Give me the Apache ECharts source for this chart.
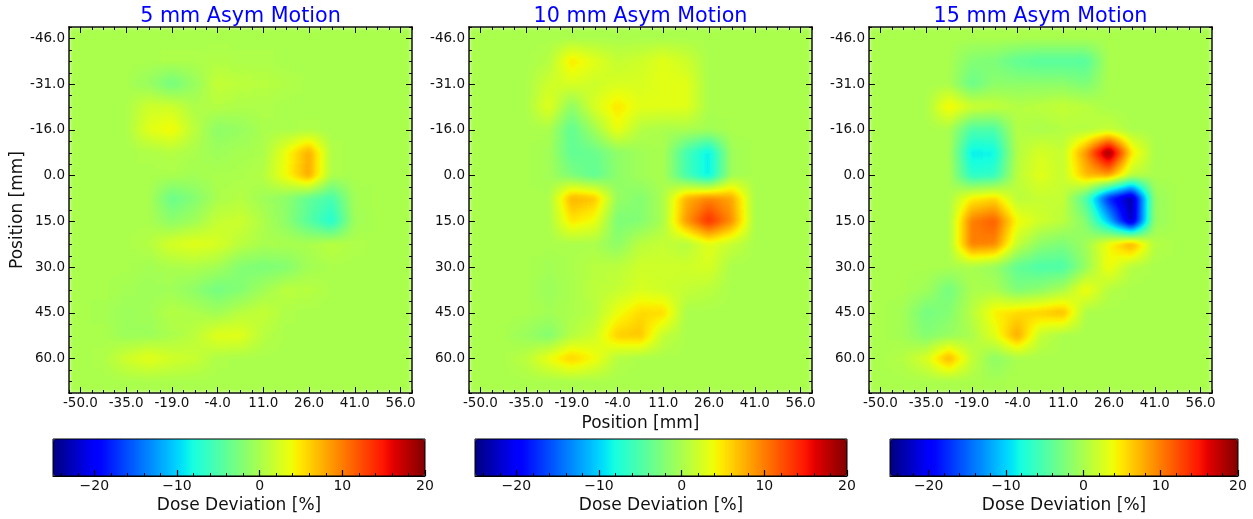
<!DOCTYPE html>
<html>
<head>
<meta charset="utf-8">
<script src="https://cdn.jsdelivr.net/npm/echarts@6/dist/echarts.min.js"></script>
<style>
html,body{margin:0;padding:0;background:#fff;}
#stage{position:relative;width:1253px;height:519px;overflow:hidden;}
.field{position:absolute;top:27px;width:343px;height:366px;background:#8e8e8e;filter:url(#doseField);}
#front{position:absolute;left:0;top:0;width:1253px;height:519px;}
</style>
</head>
<body>
<div id="stage">
<svg width="0" height="0" style="position:absolute">
<filter id="doseField" x="0" y="0" width="100%" height="100%" color-interpolation-filters="sRGB">
<feConvolveMatrix id="boxX" order="23 1" edgeMode="duplicate" preserveAlpha="true" result="a"/>
<feConvolveMatrix id="boxY" in="a" order="1 23" edgeMode="duplicate" preserveAlpha="true" result="b"/>
<feGaussianBlur in="b" stdDeviation="2" edgeMode="duplicate" result="c"/>
<feComponentTransfer in="c"><feFuncR id="fr" type="table"/><feFuncG id="fg" type="table"/><feFuncB id="fb" type="table"/></feComponentTransfer>
</filter>
</svg>
<div class="field" id="f0" style="left:69px"></div>
<div class="field" id="f1" style="left:469px"></div>
<div class="field" id="f2" style="left:869px"></div>
<div id="front"></div>
</div>
<script>
const titles = ['5 mm Asym Motion', '10 mm Asym Motion', '15 mm Asym Motion'];
const xTickLabels = ['-50.0','-35.0','-19.0','-4.0','11.0','26.0','41.0','56.0'];
const yTickLabels = ['-46.0','-31.0','-16.0','0.0','15.0','30.0','45.0','60.0'];
const barTickLabels = {'-20':'\u221220','-10':'\u221210','0':'0','10':'10','20':'20'};

const panel5 = [
[0,0,0,0,0,0,0,0,0,0,0,0,0,0,0],
[0,0,0,0,.3,.3,.4,.3,.3,.1,0,0,0,0,0],
[0,0,0,-1,-3,-1,1.5,1,.8,.4,0,0,0,0,0],
[0,0,0,2,2,.3,.5,.3,.3,0,0,0,0,0,0],
[0,0,0,3,4.2,1,-1.5,-1,0,0,.3,0,0,0,0],
[0,0,0,.2,.5,0,-.7,-.2,0,3.5,7.8,.3,0,0,0],
[0,0,0,0,0,-.3,0,0,.5,4,7.8,.3,0,0,0],
[0,0,0,0,-3.5,-2,0,.5,-.5,-1.5,-4,-5.5,-.3,0,0],
[0,0,0,0,-1.5,-.5,1.5,1.8,.3,-1.5,-4.5,-7.5,-.5,0,0],
[0,0,0,.5,2.5,3,2.5,1,0,0,0,1,.2,0,0],
[0,0,0,-.3,0,.3,-.3,-2,-2.5,-2,-.3,0,0,0,0],
[0,0,-.3,-.5,-.4,-1.5,-3,-2,-.5,1,.8,0,0,0,0],
[0,-.2,-.7,-.5,.5,.3,-.5,.8,1.5,.3,0,0,0,0,0],
[0,0,-.7,-.6,0,1,3,3,.8,0,0,0,0,0,0],
[0,.3,2,3.2,2.2,1.6,.3,0,0,0,0,0,0,0,0],
[0,0,0,0,0,0,0,0,0,0,0,0,0,0,0]
];
const panel10 = [
[0,0,0,0,0,0,0,0,0,0,0,0,0,0,0],
[0,0,0,.5,4.8,3,1.5,2,3,2,0,0,0,0,0],
[0,0,0,2,2.5,2,2.5,2.5,3,3,0,0,0,0,0],
[0,0,0,3,-1.5,2.5,5,3,3,3,0,0,0,0,0],
[0,0,0,0,-4,-.5,3.5,.5,0,0,-.3,0,0,0,0],
[0,0,0,-.3,-4,-3.5,-1.5,-.5,0,-5.5,-9,-.5,0,0,0],
[0,0,0,-.3,-2.5,-4,-1.5,-.5,0,-5.5,-9,-.5,0,0,0],
[0,0,0,0,7.5,6.5,-1,-2,0,7.5,9.5,8,0,0,0],
[0,0,0,0,5,3.5,-2.5,-2,0,8.5,14,9,0,0,0],
[0,0,0,0,0,0,-1.5,1,1.5,.5,3,1.5,0,0,0],
[0,0,0,-.3,0,.8,1,2,2,2,2.5,0,0,0,0],
[0,0,0,-.7,0,1,1.5,2.5,2,1.5,1,0,0,0,0],
[0,0,0,-.3,0,.8,3.5,5.5,5.5,0,0,0,0,0,0],
[0,0,-.8,-2,.5,2,6,6.5,1.5,0,0,0,0,0,0],
[0,0,1,3.5,6,4,.5,0,0,0,0,0,0,0,0],
[0,0,0,0,0,0,0,0,0,0,0,0,0,0,0]
];
const panel15 = [
[0,0,0,0,0,0,0,0,0,0,0,0,0,0,0],
[0,0,0,0,-2,-2.5,-4,-4.5,-4.5,-4.5,0,0,0,0,0],
[0,0,0,0,-3.5,-1.5,-1.5,-1.5,-1.5,-2.5,0,0,0,0,0],
[0,0,0,4.5,2,1.5,.5,1,1.5,1,0,0,0,0,0],
[0,0,0,0,-5,-5,.5,0,.5,.5,1.5,0,0,0,0],
[0,0,0,0,-9,-8.5,.5,2.5,1.5,9,20,5,0,0,0],
[0,0,0,0,-7,-6.5,1,3,1.5,7,8,1,0,0,0],
[0,0,0,0,4.5,5.5,1,1.5,1.5,-5,-18,-24,-1,0,0],
[0,0,0,0,10,11.5,4,2,1,-2,-11,-23,-1,0,0],
[0,0,0,0,10,9.5,1.5,-1.5,-2.5,-.5,4,8,.5,0,0],
[0,0,0,0,0,-1,-4,-5,-5,-1,4,.5,0,0,0],
[0,0,-.5,-3,0,0,-2.5,-1.5,0,4,.5,0,0,0,0],
[0,-.3,-3,-2,.8,4.5,5.5,6,7,0,0,0,0,0,0],
[0,-.3,-2,-1,0,3,8,1.5,0,0,0,0,0,0,0],
[0,.5,2.5,7.5,1.5,-1.5,0,0,0,0,0,0,0,0,0],
[0,0,0,0,0,-.2,0,0,0,0,0,0,0,0,0]
];
const panels = [panel5, panel10, panel15];

const valueMin = -25, valueMax = 20;

function jet(t) {
  const seg = (pts) => {
    for (let i = 1; i < pts.length; i++) {
      if (t <= pts[i][0]) {
        const a = pts[i-1], b = pts[i];
        return a[1] + (b[1]-a[1]) * (t-a[0]) / (b[0]-a[0]);
      }
    }
    return pts[pts.length-1][1];
  };
  return [
    seg([[0,0],[.35,0],[.66,1],[.89,1],[1,.5]]),
    seg([[0,0],[.125,0],[.375,1],[.64,1],[.91,0],[1,0]]),
    seg([[0,.5],[.11,1],[.34,1],[.65,0],[1,0]])
  ];
}
const jetStops = [];
for (let i = 0; i <= 128; i++) jetStops.push(jet(i / 128));
const jetColors = jetStops.map(c => 'rgb(' + c.map(v => Math.round(v * 255)).join(',') + ')');
['fr','fg','fb'].forEach((id, ch) => {
  document.getElementById(id).setAttribute('tableValues', jetStops.map(c => c[ch].toFixed(4)).join(' '));
});
const BOX = Array(23).fill(1).join(' ');
['boxX','boxY'].forEach(id => {
  const n = document.getElementById(id);
  n.setAttribute('kernelMatrix', BOX);
  n.setAttribute('divisor', '23');
});

panels.forEach((rows, p) => {
  const chart = echarts.init(document.getElementById('f' + p), null, {renderer: 'canvas'});
  const data = [];
  rows.forEach((row, r) => row.forEach((v, c) => data.push([c, r, v])));
  chart.setOption({
    animation: false,
    grid: {left: 0, right: 0, top: 0, bottom: 0},
    xAxis: {type: 'category', data: rows[0].map((_, i) => i), show: false},
    yAxis: {type: 'category', data: rows.map((_, i) => i), inverse: true, show: false},
    visualMap: {show: false, min: valueMin, max: valueMax, inRange: {color: ['#000000', '#ffffff']}},
    series: [{type: 'heatmap', data, progressive: 0, emphasis: {disabled: true}}]
  });
});

const plotLefts = [69, 469, 869];
const PW = 343, PH = 366, PT = 27;
const xCats = Array.from({length: 31}, (_, i) => i);
const yCats = Array.from({length: 33}, (_, i) => i);
const barCats = Array.from({length: valueMax - valueMin + 1}, (_, i) => String(valueMin + i));
const bars = [[53, 372], [475, 372], [890, 348]];
const BT = 439, BH = 37;
const TXT = '#111', FONT = 'DejaVu Sans';
const edge = {show: true, onZero: false, lineStyle: {color: '#000', width: 1.5, opacity: 0.6}};

const grids = [], xAxes = [], yAxes = [], vms = [], tts = [];
const major = (i) => i % 4 === 1;
const always = () => true;
function cartAxes(gi, cats, labels, isX, p) {
  const out = [];
  const base = {type: 'category', data: cats, boundaryGap: false, gridIndex: gi, axisLine: edge, splitLine: {show: false}, z: 5};
  if (!isX) base.inverse = true;
  const sides = isX ? ['bottom', 'top'] : ['left', 'right'];
  sides.forEach((pos, s) => {
    const maj = Object.assign({}, base, {
      position: pos,
      axisTick: {show: true, inside: true, length: 6, interval: (i) => major(i), lineStyle: {color: '#000', width: 1}},
      axisLabel: {show: s === 0, inside: false, interval: (i) => major(i), margin: isX ? 3 : 4, padding: isX ? 0 : [2, 0, 0, 0], fontFamily: FONT, fontSize: 13.5, color: TXT,
        formatter: (v, i) => labels[(Number(v) - 1) / 4]}
    });
    if (s === 0 && isX && p === 1) Object.assign(maj, {name: 'Position [mm]', nameLocation: 'middle', nameGap: 21, nameTextStyle: {fontFamily: FONT, fontSize: 17, color: TXT}});
    if (s === 0 && !isX && p === 0) Object.assign(maj, {name: 'Position [mm]', nameLocation: 'middle', nameGap: 41, nameTextStyle: {fontFamily: FONT, fontSize: 17, color: TXT}});
    const min = Object.assign({}, base, {
      position: pos,
      axisTick: {show: true, inside: true, length: 3, interval: always, lineStyle: {color: '#000', width: 1}},
      axisLabel: {show: false}
    });
    out.push(maj, min);
  });
  return out;
}
plotLefts.forEach((left, p) => {
  const gi = grids.length;
  grids.push({left, top: PT, width: PW, height: PH, show: false});
  xAxes.push(...cartAxes(gi, xCats, xTickLabels, true, p));
  yAxes.push(...cartAxes(gi, yCats, yTickLabels, false, p));
  tts.push({text: titles[p], left: left + PW / 2 - 5, top: 1, textAlign: 'center', textStyle: {color: '#0000ff', fontFamily: FONT, fontSize: 20.7, fontWeight: 'normal'}});
});
bars.forEach((b, p) => {
  const gi = grids.length;
  grids.push({left: b[0], top: BT, width: b[1], height: BH, show: true, backgroundColor: 'transparent', borderColor: '#000', borderWidth: 1, z: 8});
  xAxes.push({type: 'category', data: barCats, boundaryGap: false, gridIndex: gi, position: 'bottom', z: 9,
    axisLine: {show: true, lineStyle: {color: '#000', width: 1}},
    axisTick: {show: true, inside: true, length: 6, interval: (i, v) => Number(v) % 10 === 0, lineStyle: {color: '#000', width: 1.2}},
    axisLabel: {show: true, interval: (i, v) => Number(v) % 10 === 0, margin: 3, fontFamily: FONT, fontSize: 14, color: TXT, formatter: (v) => barTickLabels[v]},
    name: 'Dose Deviation [%]', nameLocation: 'middle', nameGap: 21, nameTextStyle: {fontFamily: FONT, fontSize: 17, color: TXT}
  });
  xAxes.push({type: 'category', data: barCats, boundaryGap: false, gridIndex: gi, position: 'bottom', z: 9,
    axisLine: {show: false},
    axisTick: {show: true, inside: true, length: 3, interval: (i, v) => Number(v) % 2 === 0, lineStyle: {color: '#000', width: 1}},
    axisLabel: {show: false}
  });
  yAxes.push({type: 'value', gridIndex: gi, min: 0, max: 1, show: false});
  vms.push({type: 'continuous', show: true, seriesIndex: [], orient: 'horizontal', left: b[0], top: BT, itemWidth: BH, itemHeight: b[1], padding: 0,
    min: valueMin, max: valueMax, calculable: false, hoverLink: false, text: null, showLabel: false, realtime: false, z: 1,
    inRange: {color: jetColors}});
});

const front = echarts.init(document.getElementById('front'), null, {renderer: 'canvas'});
front.setOption({animation: false, backgroundColor: 'transparent', title: tts, grid: grids, xAxis: xAxes, yAxis: yAxes, visualMap: vms, series: []});
</script>
</body>
</html>
